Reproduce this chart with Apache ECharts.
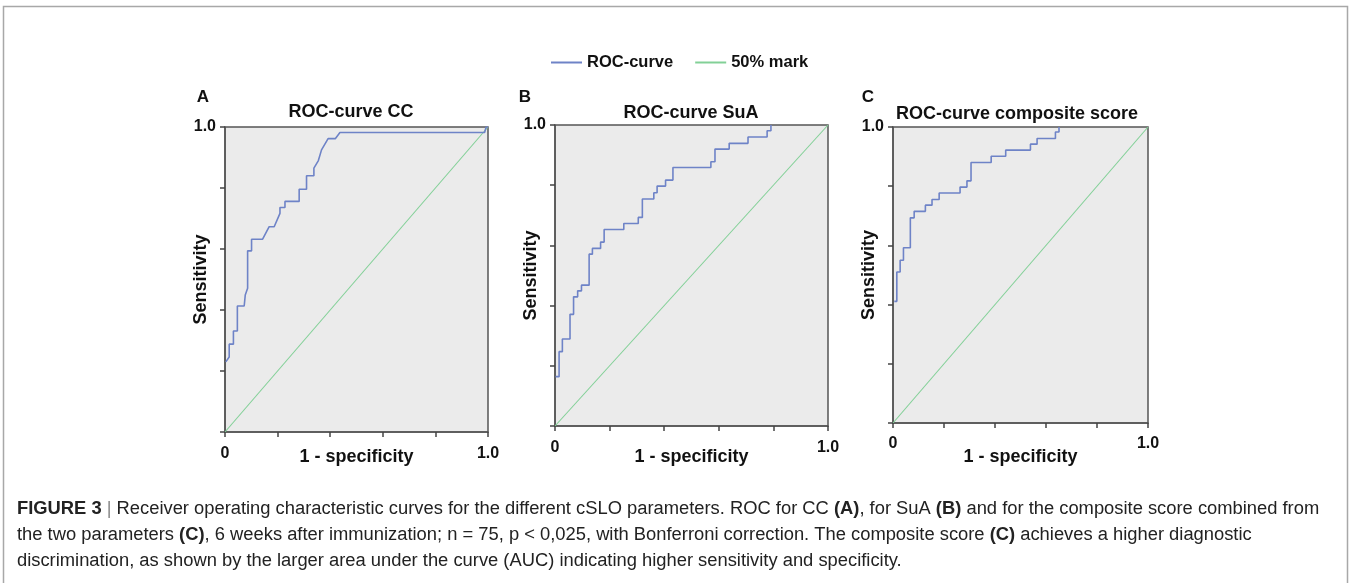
<!DOCTYPE html>
<html><head><meta charset="utf-8">
<script src="https://cdn.jsdelivr.net/npm/echarts@6/dist/echarts.min.js"></script>
<style>html,body{margin:0;padding:0;background:#fff}#c{width:1351px;height:583px}</style>
</head><body><div id="c"></div>
<script>
// ROC curve points [1 - specificity, sensitivity]
var rocCC = [[0.003,0.23],[0.016,0.246],[0.016,0.288],[0.032,0.288],[0.032,0.331],[0.047,0.331],[0.047,0.413],[0.073,0.413],[0.077,0.449],[0.086,0.471],[0.086,0.594],[0.101,0.594],[0.101,0.632],[0.143,0.632],[0.168,0.673],[0.187,0.673],[0.209,0.717],[0.209,0.736],[0.228,0.736],[0.228,0.756],[0.282,0.756],[0.282,0.796],[0.310,0.796],[0.310,0.840],[0.338,0.840],[0.338,0.865],[0.355,0.89],[0.367,0.925],[0.392,0.962],[0.420,0.962],[0.437,0.982],[0.987,0.982],[0.993,1.0],[1.0,1.0]];
var rocSuA = [[0.002,0.164],[0.015,0.164],[0.015,0.247],[0.027,0.247],[0.027,0.289],[0.055,0.289],[0.055,0.371],[0.068,0.371],[0.068,0.429],[0.083,0.429],[0.083,0.449],[0.097,0.449],[0.097,0.468],[0.125,0.468],[0.125,0.571],[0.137,0.571],[0.137,0.590],[0.167,0.590],[0.167,0.611],[0.180,0.611],[0.180,0.653],[0.252,0.653],[0.252,0.673],[0.305,0.673],[0.305,0.693],[0.320,0.693],[0.320,0.754],[0.362,0.754],[0.362,0.775],[0.374,0.775],[0.374,0.797],[0.405,0.797],[0.405,0.817],[0.432,0.817],[0.432,0.859],[0.571,0.859],[0.571,0.878],[0.586,0.878],[0.586,0.920],[0.638,0.920],[0.638,0.939],[0.707,0.939],[0.707,0.960],[0.777,0.960],[0.777,0.981],[0.791,0.981],[0.791,1.0]];
var rocComposite = [[0.005,0.411],[0.015,0.411],[0.015,0.510],[0.028,0.510],[0.028,0.550],[0.041,0.550],[0.041,0.592],[0.068,0.592],[0.068,0.693],[0.083,0.693],[0.083,0.715],[0.127,0.715],[0.127,0.736],[0.153,0.736],[0.153,0.755],[0.181,0.755],[0.181,0.777],[0.263,0.777],[0.263,0.797],[0.290,0.797],[0.290,0.818],[0.306,0.818],[0.306,0.880],[0.385,0.880],[0.385,0.901],[0.442,0.901],[0.442,0.922],[0.539,0.922],[0.539,0.942],[0.565,0.942],[0.565,0.961],[0.637,0.961],[0.637,0.983],[0.651,0.983],[0.651,1.0]];
var reference50 = [[0,0],[1,1]];
var panelLetters = ['A','B','C'];
var panelTitles = ['ROC-curve CC','ROC-curve SuA','ROC-curve composite score'];
var xAxisName = '1 - specificity';
var yAxisName = 'Sensitivity';
var seriesNames = ['ROC-curve','50% mark'];

var BLUE = '#6e83c7', GREEN = '#82d097', FRAME = '#555';
var grids = [
  {left:225, top:127, width:263, height:305, xNameGap:16, xLabelMargin:14},
  {left:555, top:125, width:273, height:301, xNameGap:22, xLabelMargin:14},
  {left:893, top:127, width:255, height:296, xNameGap:25, xLabelMargin:13}
];
var rocs = [rocCC, rocSuA, rocComposite];
var FONT = 'Liberation Sans, Arial, sans-serif';

var option = {
  animation:false,
  backgroundColor:'#fff',
  legend:{
    data:seriesNames, left:546, top:49, icon:'rect', itemWidth:31, itemHeight:2, itemGap:22,
    textStyle:{fontFamily:FONT, fontWeight:'bold', fontSize:16.5, color:'#111'}
  },
  grid: grids.map(function(g){ return {left:g.left, top:g.top, width:g.width, height:g.height, show:true, backgroundColor:'#ebebeb', borderColor:FRAME, borderWidth:1.5}; }),
  xAxis: grids.map(function(g,i){ return {
    type:'value', gridIndex:i, min:0, max:1, interval:0.2,
    name:xAxisName, nameLocation:'middle', nameGap:g.xNameGap, nameMoveOverlap:false,
    nameTextStyle:{fontFamily:FONT, fontWeight:'bold', fontSize:18, color:'#111'},
    axisLine:{lineStyle:{color:FRAME, width:1.5}},
    axisTick:{show:true, length:5, lineStyle:{color:'#444', width:1.5}},
    splitLine:{show:false},
    axisLabel:{margin:g.xLabelMargin, fontFamily:FONT, fontWeight:'bold', fontSize:16, color:'#111', showMinLabel:true, showMaxLabel:true,
      formatter:function(v){ return v===0?'0':(v===1?'1.0':''); }}
  }; }),
  yAxis: grids.map(function(g,i){ return {
    type:'value', gridIndex:i, min:0, max:1, interval:0.2,
    name:yAxisName, nameLocation:'middle', nameGap:15, nameMoveOverlap:false,
    nameTextStyle:{fontFamily:FONT, fontWeight:'bold', fontSize:18, color:'#111'},
    axisLine:{lineStyle:{color:FRAME, width:1.5}},
    axisTick:{show:true, length:5, lineStyle:{color:'#444', width:1.5}},
    splitLine:{show:false},
    axisLabel:{margin:9, padding:[6,0,0,0], fontFamily:FONT, fontWeight:'bold', fontSize:16, color:'#111', showMaxLabel:true,
      formatter:function(v){ return v===1?'1.0':''; }}
  }; }),
  series: [],
  graphic: []
};
rocs.forEach(function(r,i){
  option.series.push({type:'line', name:seriesNames[0], xAxisIndex:i, yAxisIndex:i, data:r, showSymbol:false, symbol:'none',
    lineStyle:{color:BLUE, width:1.6}, itemStyle:{color:BLUE}, z:3});
  option.series.push({type:'line', name:seriesNames[1], xAxisIndex:i, yAxisIndex:i, data:reference50, showSymbol:false, symbol:'none',
    lineStyle:{color:GREEN, width:1.1}, itemStyle:{color:GREEN}, z:2});
});
var letterPos = [[203,97],[525,97],[868,97]];
var titlePos = [[351,112],[691,113],[1017,114]];
panelLetters.forEach(function(l,i){
  option.graphic.push({type:'text', x:letterPos[i][0], y:letterPos[i][1], style:{text:l, fill:'#111', font:'bold 17px '+FONT, textAlign:'center', textVerticalAlign:'middle'}});
  option.graphic.push({type:'text', x:titlePos[i][0], y:titlePos[i][1], style:{text:panelTitles[i], fill:'#111', font:'bold 18px '+FONT, textAlign:'center', textVerticalAlign:'middle'}});
});
// figure frame
option.graphic.push({type:'rect', shape:{x:3.5, y:6.5, width:1344, height:600}, style:{fill:'none', stroke:'#a8a8a8', lineWidth:1.5}, z:-1});
// caption
var capLines = [
  '{b|FIGURE 3} {s||} Receiver operating characteristic curves for the different cSLO parameters. ROC for CC {b|(A)}, for SuA {b|(B)} and for the composite score combined from',
  'the two parameters {b|(C)}, 6 weeks after immunization; n = 75, p < 0,025, with Bonferroni correction. The composite score {b|(C)} achieves a higher diagnostic',
  'discrimination, as shown by the larger area under the curve (AUC) indicating higher sensitivity and specificity.'
];
var CAPFONT = 'Liberation Sans, Arial, sans-serif';
var CAPSIZE = 18.35;
capLines.forEach(function(t,i){
  option.graphic.push({type:'text', x:17, y:509+i*26, style:{text:t, fill:'#222', fontFamily:CAPFONT, fontSize:CAPSIZE, textVerticalAlign:'middle',
    rich:{b:{fontFamily:CAPFONT, fontSize:CAPSIZE, fontWeight:'bold', fill:'#222'}, s:{fontFamily:CAPFONT, fontSize:CAPSIZE, fill:'#888'}}}});
});
var chart = echarts.init(document.getElementById('c'));
chart.setOption(option);
</script></body></html>
